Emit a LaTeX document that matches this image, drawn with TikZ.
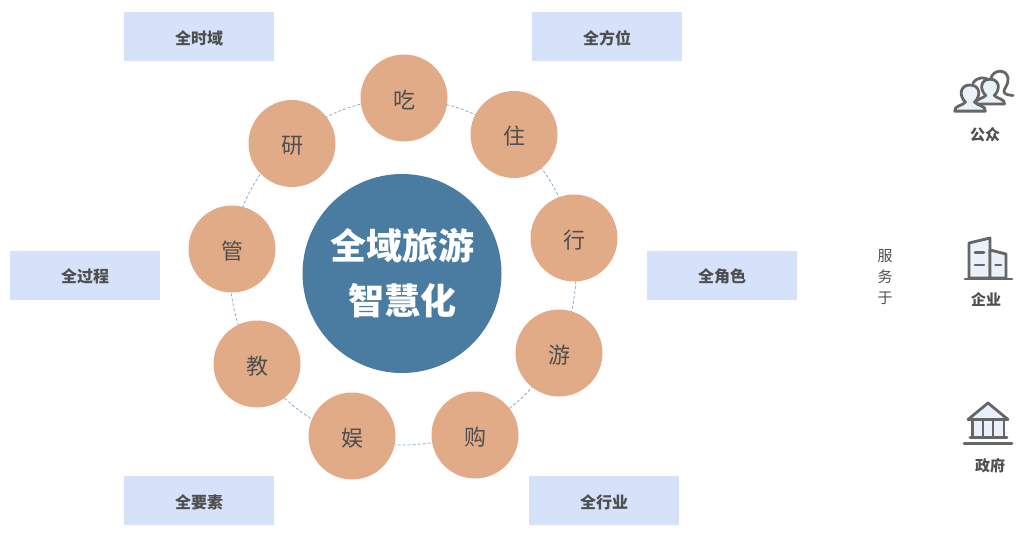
\documentclass[tikz,border=0pt]{standalone}
\usepackage{fontspec}
\newfontfamily\cjk{Noto Sans CJK SC}
\newcommand\lowertext[1]{\raisebox{-2pt}[\height][\depth]{#1}}
\newcommand\lowertag[1]{\raisebox{-1.5pt}[\height][\depth]{#1}}
\definecolor{boxblue}{HTML}{D6E2F9}
\definecolor{peach}{HTML}{E2AB88}
\definecolor{hubblue}{HTML}{4A7BA0}
\definecolor{ringblue}{HTML}{7FA3C4}
\definecolor{inktext}{HTML}{4F4F4F}
\definecolor{icongrey}{HTML}{666666}
\definecolor{iconfill}{HTML}{EBF1FB}
\tikzset{
  tag/.style={fill=boxblue,minimum width=150,minimum height=49,inner sep=0,font=\cjk\fontsize{16}{16}\selectfont\bfseries,text=inktext},
  petal/.style={circle,fill=peach,minimum size=87,inner sep=0,font=\cjk\fontsize{22}{22}\selectfont,text=inktext},
  hub/.style={circle,fill=hubblue,minimum size=199,inner sep=0,align=center,text=white,font=\cjk\fontsize{36}{55}\selectfont\bfseries},
  orbit/.style={circle,draw=ringblue,densely dashed,line width=.7,minimum size=346,inner sep=0},
  caption/.style={inner sep=0,font=\cjk\fontsize{15}{15}\selectfont\bfseries,text=inktext},
  iconline/.style={draw=icongrey,line width=2.8,line join=round,line cap=round},
  iconbody/.style={iconline,fill=iconfill},
  person/.pic={\path[iconbody] (-17,14) .. controls (-18,8) and (-8,8) .. (-5,4) .. controls (-12,-2) and (-12,-15) .. (0,-15) .. controls (12,-15) and (12,-2) .. (5,4) .. controls (8,8) and (18,8) .. (17,14) -- cycle;}
}
\begin{document}
\begin{tikzpicture}[x=1pt,y=-1pt]
\useasboundingbox (0,0) rectangle (1024,535);
\node[orbit] (ring) at (403,272) {};
\node[hub] (hub) at (402,273.5) {全域旅游\\智慧化};
\node[petal] (chi) at (404,98) {\lowertext{吃}};
\node[petal] (zhu) at (514,134.5) {\lowertext{住}};
\node[petal] (xing) at (574,238) {\lowertext{行}};
\node[petal] (you) at (559,353) {\lowertext{游}};
\node[petal] (gou) at (475,435) {\lowertext{购}};
\node[petal] (yu) at (352,436) {\lowertext{娱}};
\node[petal] (jiao) at (257,364) {\lowertext{教}};
\node[petal] (guan) at (232,249) {\lowertext{管}};
\node[petal] (yan) at (292,143.5) {\lowertext{研}};
\node[tag] (t1) at (199,36.5) {\lowertag{全时域}};
\node[tag] (t2) at (607,36.5) {\lowertag{全方位}};
\node[tag] (t3) at (85,275) {\lowertag{全过程}};
\node[tag] (t4) at (722,275) {\lowertag{全角色}};
\node[tag] (t5) at (199,500.5) {\lowertag{全要素}};
\node[tag] (t6) at (604,500.5) {\lowertag{全行业}};
\node[inner sep=0,align=center,text=inktext,font=\cjk\fontsize{15}{21}\selectfont] (serve) at (885,277) {服\\务\\于};
% people icon
\path[iconline] (991,78) .. controls (993,70) and (1006,68) .. (1008,78) .. controls (1009,85) and (1003,89) .. (1004,92) .. controls (1005,95) and (1010,95) .. (1013,95.5);
\path[iconline] (973,83) .. controls (977,77) and (985,76) .. (990,81);
\pic at (990,92) [scale=.85] {person};
\pic at (970,98.5) [scale=.9] {person};
\node[caption] (c1) at (985,135) {公众};
% building icon
\path[iconbody] (969,278) -- (969,243) -- (990,238) -- (990,278) -- cycle;
\path[iconbody] (990,278) -- (990,250) -- (1006,254) -- (1006,278) -- cycle;
\path[iconline] (965,279) -- (1012,279);
\path[iconline] (975,252.5) -- (984,252.5) (975,265) -- (984,265) (995.5,265) -- (1001,265);
\node[caption] (c2) at (986,300) {企业};
% temple icon
\path[iconbody] (968,419.5) -- (988,403) -- (1008,419.5) -- cycle;
\path[iconbody] (972.5,420) rectangle (1004,437);
\path[iconline] (983,420) -- (983,437) (993,420) -- (993,437);
\path[iconline] (970,437.5) -- (1007,437.5);
\path[iconline] (964,443.5) -- (1012,443.5);
\node[caption] (c3) at (990,466) {政府};
\end{tikzpicture}
\end{document}
